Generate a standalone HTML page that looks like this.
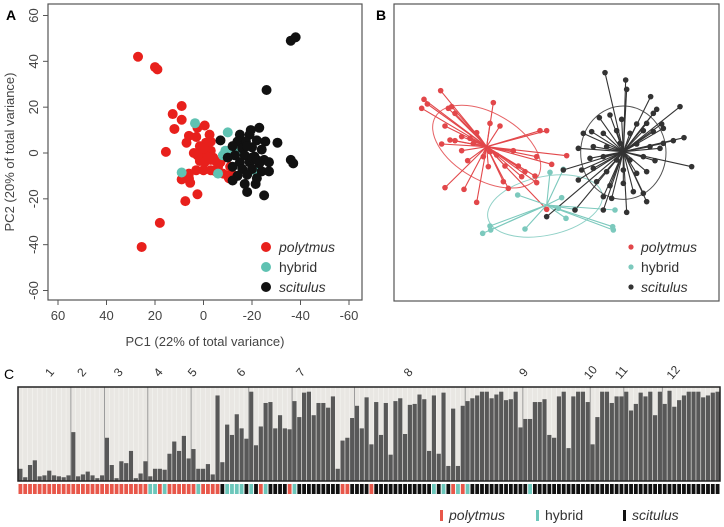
<!DOCTYPE html>
<html><head><meta charset="utf-8"><style>
html,body{margin:0;padding:0;background:#fff;}
svg{display:block;font-family:"Liberation Sans",sans-serif;}
</style></head><body>
<svg id="fig" width="724" height="527" viewBox="0 0 724 527">
<g id="pa"></g>
<g id="pb"></g>
<g id="pc"></g>
</svg>
<script>
const NS="http://www.w3.org/2000/svg";
function mk(parent,tag,attrs,text){const e=document.createElementNS(NS,tag);for(const k in attrs)e.setAttribute(k,attrs[k]);if(text!==undefined)e.textContent=text;parent.appendChild(e);return e;}
const RED="#e8201c",CYAN="#5fc2b2",BLACK="#111";

// ---------- Panel A data ----------
const xTicksA=[60,40,20,0,-20,-40,-60];
const yTicksA=[60,40,20,0,-20,-40,-60];
const polytmusA=[[27,42],[20,37.5],[19,36.5],[12.7,17],[9,20.5],[9,14.5],[12,10.5],[15.5,0.5],[6,7.5],[7,4.5],[2.5,11],[-0.5,12],[3,7],[-1,4.5],[-3,5],[1.5,3],[-3,1],[0.5,0],[2.5,-1],[-1.5,-1.5],[-4,-2],[1.5,-3.5],[-0.5,-4],[-3,-3],[-5,-3.5],[3,-7.5],[0,-7.5],[-3,-7.5],[-5,-8],[-10,-10],[-10.5,-11],[6,-9],[9,-11.5],[5.5,-13],[2.5,-18],[7.5,-21],[18,-30.5],[25.5,-41],[-6,-6],[-2,-2],[0,2],[-7,-4],[-11,-6],[-12,-9.5],[-8,-9],[4,0],[-2.5,8],[6,-11]];
const hybridA=[[3.5,13],[-10,9],[9,-8.5],[-6,-9],[-22,-8.5],[-8,-1],[-10,0],[-12,2],[-13.5,2.5],[-15,2],[-11,-1],[-9,1],[-14,0.5],[-16,1.5]];
const scitulusA=[[-36,49],[-38,50.5],[-26,27.5],[-30.5,4.5],[-36,-3],[-37,-4.5],[-25,-18.5],[-21.5,-13.5],[-17,-13.5],[-18,-17],[-7,5.5],[-19.5,10],[-23,11],[-15,8],[-19,8],[-14,5],[-17.5,5],[-22,5.5],[-25.5,5],[-12,3],[-16,2],[-20,2.5],[-24,1.5],[-13,-1],[-17,-1],[-21,-1.5],[-25,-3],[-10,-2],[-15,-4],[-19,-4],[-23,-4.5],[-27,-4],[-12,-6],[-16,-7],[-20,-7],[-24,-8],[-27,-8],[-14,-10],[-18,-9.5],[-22,-11],[-12,-12],[-20,-2],[-18,3],[-22,-3]];
const legendLabels=["polytmus","hybrid","scitulus"];

// ---------- Panel B data (layout units) ----------
const centroidsB=[[290,440],[470,615],[700,455]];
const polytmusB=[[152,272],[102,298],[112,312],[95,325],[175,325],[185,320],[195,340],[310,308],[165,378],[300,370],[330,378],[215,410],[240,415],[155,432],[180,420],[195,422],[260,398],[250,430],[215,452],[450,392],[470,392],[370,452],[440,470],[530,467],[485,493],[233,482],[295,500],[345,498],[385,498],[405,515],[395,530],[435,528],[440,548],[340,545],[355,565],[165,563],[222,568],[260,607],[470,628],[300,455],[320,465],[280,470]];
const hybridB=[[480,517],[520,508],[383,585],[515,593],[505,625],[528,655],[405,687],[300,678],[302,690],[278,700],[668,680],[670,690],[555,628],[675,630]];
const scitulusB=[[645,218],[707,240],[710,268],[782,290],[870,320],[800,328],[790,340],[660,345],[628,353],[695,358],[740,372],[770,370],[815,372],[580,400],[605,395],[640,400],[680,392],[720,400],[760,392],[790,395],[820,385],[882,413],[850,422],[820,430],[565,445],[610,440],[650,440],[690,430],[740,432],[780,440],[810,445],[600,475],[640,470],[680,480],[720,480],[760,470],[795,482],[905,500],[575,510],[610,505],[650,515],[700,510],[740,520],[770,515],[565,540],[620,545],[660,557],[700,550],[730,575],[760,580],[770,605],[640,590],[665,595],[555,630],[640,630],[710,637],[470,650],[520,510]];
const ellipsesB=[[290,440,178,100,30],[465,618,175,88,-12],[700,458,128,140,0]];

// ---------- Panel C data ----------
const ancestry=[0.13,0.04,0.17,0.22,0.05,0.06,0.11,0.06,0.05,0.04,0.06,0.52,0.05,0.07,0.10,0.06,0.03,0.06,0.46,0.17,0.03,0.21,0.19,0.32,0.03,0.08,0.21,0.05,0.13,0.13,0.12,0.29,0.42,0.32,0.48,0.24,0.34,0.13,0.13,0.18,0.07,0.91,0.20,0.60,0.49,0.71,0.56,0.45,0.95,
0.38,0.58,0.83,0.84,0.56,0.70,0.56,0.55,0.85,0.68,0.94,0.95,0.70,0.83,0.83,0.78,0.90,0.13,0.43,0.46,0.67,0.80,0.56,0.89,0.39,0.84,0.49,0.83,0.28,0.85,0.88,0.50,0.81,0.82,0.92,0.87,0.32,0.91,0.29,0.94,0.16,0.77,0.16,0.80,0.85,0.88,0.91,0.95,
0.95,0.88,0.92,0.95,0.86,0.87,0.95,0.57,0.66,0.66,0.84,0.84,0.87,0.49,0.46,0.90,0.95,0.35,0.90,0.95,0.95,0.84,0.39,0.68,0.95,0.95,0.83,0.90,0.90,0.95,0.75,0.82,0.94,0.90,0.95,0.70,0.95,0.82,0.96,0.79,0.86,0.91,0.95,0.95,0.95,0.89,0.91,0.94,0.95];
const groupsStr="rrrrrrrrrrrrrrrrrrrrrrrrrrrccrcrrrrrrcrrrrkcccckckrckkkkrckkkkkkkkkrrkkkkrkkkkkkkkkkkkckckrcrckkkkkkkkkkkkckkkkkkkkkkkkkkkkkkkkkkkkkkkkkkkkkkkkkkkkk";
const siteBreaks=[11,18,27,36,48,57,70,93,105,119,126,134];
const siteLabels=["1","2","3","4","5","6","7","8","9","10","11","12"];
const siteLabelPos=[7.2,13.9,21.5,29.8,36.9,47,59.4,81.8,105.8,119.7,126.1,136.9];

// ===== Panel A =====
(function(){
const g=document.getElementById('pa');
const X0=48,X1=362,Y0=4,Y1=300;
const sx=v=>58+(60-v)*(291/120);
const sy=v=>153-v*(275/120);
const lbl=mk(g,'text',{x:6,y:20,'font-size':14,'font-weight':'bold',fill:'#000'},'A');

const fr=mk(g,'rect',{x:X0,y:Y0,width:X1-X0,height:Y1-Y0,fill:'none',stroke:'#555','stroke-width':1.2});

xTicksA.forEach(t=>{const x=sx(t);mk(g,'line',{x1:x,x2:x,y1:Y1,y2:Y1+5,stroke:'#555'});
 const tx=mk(g,'text',{x:x,y:Y1+20,'font-size':13,fill:'#444','text-anchor':'middle'},String(t));
 });
yTicksA.forEach(t=>{const y=sy(t);mk(g,'line',{x1:X0-5,x2:X0,y1:y,y2:y,stroke:'#555'});
 const tx=mk(g,'text',{x:0,y:0,'font-size':13,fill:'#444','text-anchor':'middle',transform:`translate(${X0-10},${y}) rotate(-90)`},String(t));
 });
const xt=mk(g,'text',{x:205,y:346,'font-size':13,fill:'#444','text-anchor':'middle'},'PC1 (22% of total variance)');

const yt=mk(g,'text',{x:0,y:0,'font-size':13,fill:'#444','text-anchor':'middle',transform:'translate(14,152) rotate(-90)'},'PC2 (20% of total variance)');

[[polytmusA,RED],[hybridA,CYAN],[scitulusA,BLACK]].forEach(([arr,c])=>arr.forEach(p=>{
 const e=mk(g,'circle',{cx:sx(p[0]),cy:sy(p[1]),r:5,fill:c});
 }));
[RED,CYAN,BLACK].forEach((c,i)=>{const y=247+i*20;
 const d=mk(g,'circle',{cx:266,cy:y,r:5,fill:c});
 const t=mk(g,'text',{x:279,y:y+5,'font-size':14,fill:'#333','font-style':i==1?'normal':'italic'},legendLabels[i]);
 });
})();

// ===== Panel B =====
(function(){
const g=document.getElementById('pb');
const bx=v=>390+v/3, by=v=>v/3;
const lbl=mk(g,'text',{x:376,y:20,'font-size':14,'font-weight':'bold',fill:'#000'},'B');

const fr=mk(g,'rect',{x:394,y:4,width:325,height:297,fill:'none',stroke:'#555','stroke-width':1.2});

const cols=["#e2474a","#7cc9bd","#333"];
ellipsesB.forEach((e,i)=>{const el=mk(g,'ellipse',{cx:bx(e[0]),cy:by(e[1]),rx:e[2]/3,ry:e[3]/3,fill:'none',stroke:cols[i],'stroke-width':1,opacity:0.85,transform:`rotate(${e[4]} ${bx(e[0])} ${by(e[1])})`});
 });
[[polytmusB,0],[hybridB,1],[scitulusB,2]].forEach(([arr,i])=>{const c=centroidsB[i];arr.forEach(p=>{
 const l=mk(g,'line',{x1:bx(c[0]),y1:by(c[1]),x2:bx(p[0]),y2:by(p[1]),stroke:cols[i],'stroke-width':1.1});
 });});
[[polytmusB,0],[hybridB,1],[scitulusB,2]].forEach(([arr,i])=>arr.forEach(p=>{
 const e=mk(g,'circle',{cx:bx(p[0]),cy:by(p[1]),r:2.8,fill:cols[i]});
 }));
["#e2474a","#7cc9bd","#333"].forEach((c,i)=>{const y=247+i*20;
 const d=mk(g,'circle',{cx:631,cy:y,r:2.6,fill:c});
 const t=mk(g,'text',{x:641,y:y+5,'font-size':14,fill:'#333','font-style':i==1?'normal':'italic'},legendLabels[i]);
 });
})();

// ===== Panel C =====
(function(){
const g=document.getElementById('pc');
const L=18,R=720,T=387,B=481,n=ancestry.length,w=(R-L)/n;
const bxc=i=>L+i*w, byc=v=>B-v*(B-T);
const lbl=mk(g,'text',{x:4,y:379,'font-size':14,fill:'#000'},'C');

mk(g,'rect',{x:L,y:T,width:R-L,height:B-T,fill:'#e9e7e3'});
ancestry.forEach((v,i)=>{const b=mk(g,'rect',{x:bxc(i),y:byc(v),width:w,height:B-byc(v),fill:'#585858'});
 
 mk(g,'line',{x1:bxc(i),x2:bxc(i),y1:T,y2:B,stroke:'#f6f5f2','stroke-width':0.6});});
siteBreaks.forEach(s=>{mk(g,'line',{x1:bxc(s),x2:bxc(s),y1:T,y2:B,stroke:'#888','stroke-width':0.8});});
const fr=mk(g,'rect',{x:L,y:T,width:R-L,height:B-T,fill:'none',stroke:'#222','stroke-width':1.5});

const gc={r:"#e8574a",c:"#6cc7bb",k:"#111"};
for(let i=0;i<n;i++){const c=mk(g,'rect',{x:bxc(i)+0.5,y:484,width:w-1,height:10,fill:gc[groupsStr[i]]||'#111'});
 }
siteLabels.forEach((s,i)=>{const x=bxc(siteLabelPos[i]);
 const t=mk(g,'text',{x:0,y:0,'font-size':12,fill:'#333','text-anchor':'middle',transform:`translate(${x},${375}) rotate(-50)`},s);
 });
const lg=[["#e8574a",440,"polytmus",true],["#6cc7bb",536,"hybrid",false],["#111",623,"scitulus",true]];
lg.forEach(([c,x,s,it])=>{const m=mk(g,'rect',{x:x,y:510,width:3,height:11,fill:c});
 
 const t=mk(g,'text',{x:x+9,y:520,'font-size':14,fill:'#333','font-style':it?'italic':'normal'},s);
 });
})();
</script>
</body></html>
